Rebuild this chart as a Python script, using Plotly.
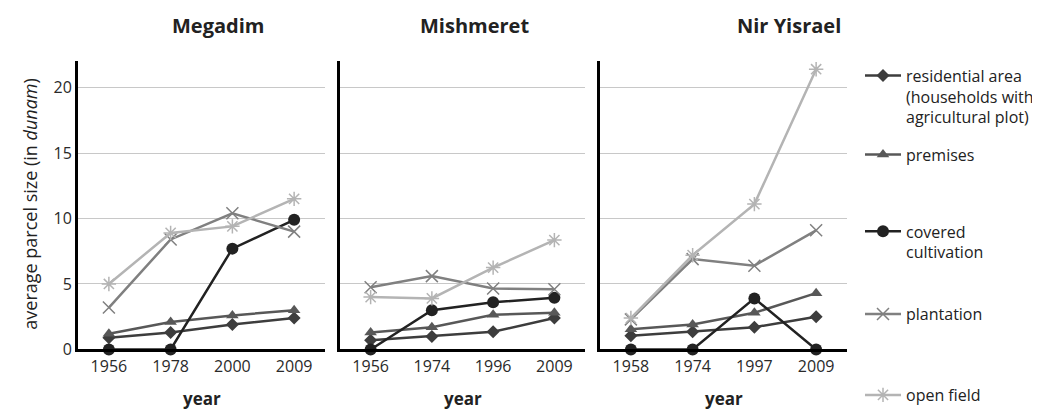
import plotly.graph_objects as go

W, H = 1040, 418

villages = ["Megadim", "Mishmeret", "Nir Yisrael"]
years = {
    "Megadim": ["1956", "1978", "2000", "2009"],
    "Mishmeret": ["1956", "1974", "1996", "2009"],
    "Nir Yisrael": ["1958", "1974", "1997", "2009"],
}

series_names = [
    "residential area<br>(households with<br>agricultural plot)",
    "premises",
    "covered<br>cultivation",
    "plantation",
    "open field",
]

residential = {
    "Megadim": [0.9, 1.3, 1.9, 2.4],
    "Mishmeret": [0.7, 1.0, 1.35, 2.4],
    "Nir Yisrael": [1.05, 1.35, 1.7, 2.5],
}
premises = {
    "Megadim": [1.2, 2.1, 2.6, 3.0],
    "Mishmeret": [1.3, 1.7, 2.65, 2.8],
    "Nir Yisrael": [1.55, 1.9, 2.8, 4.3],
}
covered = {
    "Megadim": [0, 0, 7.7, 9.9],
    "Mishmeret": [0, 3.0, 3.6, 3.95],
    "Nir Yisrael": [0, 0, 3.9, 0],
}
plantation = {
    "Megadim": [3.2, 8.4, 10.4, 9.0],
    "Mishmeret": [4.75, 5.6, 4.65, 4.6],
    "Nir Yisrael": [2.3, 6.9, 6.4, 9.1],
}
open_field = {
    "Megadim": [5.0, 8.9, 9.4, 11.5],
    "Mishmeret": [4.0, 3.9, 6.25, 8.35],
    "Nir Yisrael": [2.4, 7.2, 11.1, 21.4],
}
all_series = [residential, premises, covered, plantation, open_field]

colors = ["#3d3d3d", "#585858", "#222222", "#808080", "#b4b4b4"]
symbols = ["diamond", "triangle-up", "circle", "x-thin-open", "asterisk-open"]
msizes = [10, 11, 12, 12, 12]

FONT = "Open Sans"

# pixel geometry
panels_px = [(70, 317), (332, 577), (592, 839)]
y0_px, ytop_px = 350.7, 54
ydom = [(H - y0_px) / H, (H - ytop_px) / H]

fig = go.Figure()
legend_ids = ["legend", "legend2", "legend3", "legend4", "legend5"]

for p, v in enumerate(villages):
    ax = "" if p == 0 else str(p + 1)
    for s, data in enumerate(all_series):
        fig.add_trace(go.Scatter(
            x=years[v], y=data[v],
            mode="lines+markers",
            name=series_names[s],
            line=dict(color=colors[s], width=2.5),
            marker=dict(symbol=symbols[s], size=msizes[s], color=colors[s],
                        line=dict(color=colors[s], width=1.5 if s >= 3 else 0)),
            xaxis="x" + ax, yaxis="y" + ax,
            showlegend=(p == 0),
            legend=legend_ids[s],
            cliponaxis=False,
        ))

layout = dict(
    width=W, height=H,
    margin=dict(l=0, r=0, t=0, b=0),
    paper_bgcolor="white", plot_bgcolor="white",
    font=dict(family=FONT, size=15, color="#222222"),
)

for p, (a, b) in enumerate(panels_px):
    ax = "" if p == 0 else str(p + 1)
    layout["xaxis" + ax] = dict(
        domain=[a / W, b / W], type="category", range=[-0.5, 3.5],
        showline=True, linecolor="black", linewidth=3,
        showgrid=False, ticks="", zeroline=False,
        tickfont=dict(family=FONT, size=16, color="#2a2a2a"),
        anchor="y" + ax, fixedrange=True,
    )
    layout["yaxis" + ax] = dict(
        domain=ydom, range=[0, 22.06],
        tickvals=[0, 5, 10, 15, 20],
        showticklabels=(p == 0),
        showline=True, linecolor="black", linewidth=3,
        showgrid=True, gridcolor="#c8c8c8", gridwidth=1.2,
        zeroline=False, ticks="",
        tickfont=dict(family=FONT, size=16, color="#2a2a2a"),
        anchor="x" + ax, fixedrange=True,
    )

# legends
legend_tops = [52, 133, 212, 297, 380]
for i, lid in enumerate(legend_ids):
    layout[lid] = dict(
        x=852 / W, y=1 - legend_tops[i] / H, xanchor="left", yanchor="top",
        font=dict(family=FONT, size=16, color="#222222"),
        bgcolor="rgba(0,0,0,0)", borderwidth=0, valign="top",
        itemwidth=36,
    )

fig.update_layout(**layout)

annotations = []
title_px = [(210, "Megadim"), (466, "Mishmeret"), (781, "Nir Yisrael")]
for x, t in title_px:
    annotations.append(dict(
        x=x / W, y=1 - 18 / H, xref="paper", yref="paper",
        text="<b>" + t + "</b>", showarrow=False,
        font=dict(family=FONT, size=20, color="#222222"),
        xanchor="center", yanchor="middle",
    ))
for p, (a, b) in enumerate(panels_px):
    annotations.append(dict(
        x=(a + b) / 2 / W, y=1 - 401 / H, xref="paper", yref="paper",
        text="<b>year</b>", showarrow=False,
        font=dict(family=FONT, size=17, color="#222222"),
        xanchor="center", yanchor="middle",
    ))
annotations.append(dict(
    x=22 / W, y=1 - 201 / H, xref="paper", yref="paper",
    text="average parcel size (in <i>dunam</i>)", textangle=-90,
    showarrow=False, font=dict(family=FONT, size=18, color="#222222"),
    xanchor="center", yanchor="middle",
))
fig.update_layout(annotations=annotations)

fig.write_html("out.html")
